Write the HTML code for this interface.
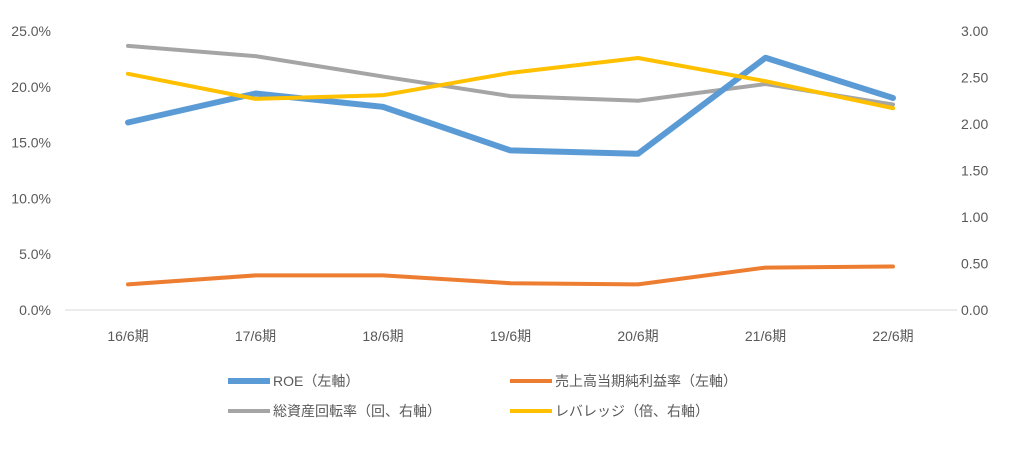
<!DOCTYPE html>
<html><head><meta charset="utf-8"><style>
body{margin:0;background:#fff;}
svg text{font-family:"Liberation Sans","Noto Sans CJK JP",sans-serif;font-size:14px;fill:#595959;}
</style></head><body>
<svg width="1024" height="445" id="c"></svg>
<script>
const categories=["16/6期","17/6期","18/6期","19/6期","20/6期","21/6期","22/6期"];
const roe=[16.8,19.4,18.2,14.3,14.0,22.6,19.0];
const margin=[2.3,3.1,3.1,2.4,2.3,3.8,3.9];
const turnover=[2.84,2.73,2.51,2.30,2.25,2.43,2.21];
const leverage=[2.54,2.27,2.31,2.55,2.71,2.46,2.17];
const leftTicks=["0.0%","5.0%","10.0%","15.0%","20.0%","25.0%"];
const rightTicks=["0.00","0.50","1.00","1.50","2.00","2.50","3.00"];
const NS="http://www.w3.org/2000/svg",svg=document.getElementById('c');
const y0=310,y1=31;
const x=i=>128+i*127.5;
const yL=v=>y0-(v/25)*(y0-y1);
const yR=v=>y0-(v/3)*(y0-y1);
function mk(t,a,p){const e=document.createElementNS(NS,t);for(const k in a)e.setAttribute(k,a[k]);(p||svg).appendChild(e);return e;}
const base=mk('line',{x1:65,x2:957,y1:y0,y2:y0,stroke:'#d9d9d9'});


leftTicks.forEach((t,i)=>{const e=mk('text',{x:51,y:yL(i*5)+5,'text-anchor':'end'});e.textContent=t;

});
rightTicks.forEach((t,i)=>{const e=mk('text',{x:961,y:yR(i*0.5)+5});e.textContent=t;

});
categories.forEach((c,i)=>{const e=mk('text',{x:x(i),y:341,'text-anchor':'middle'});e.textContent=c;

});
function series(d,f,col,name){const p=mk('polyline',{points:d.map((v,i)=>x(i)+','+f(v)).join(' '),fill:'none',stroke:col,'stroke-width':name=='roe-line'?6:4,'stroke-linejoin':'round','stroke-linecap':'round'});

}
series(margin,yL,'#ed7d31','net-margin-line');
series(turnover,yR,'#a5a5a5','asset-turnover-line');
series(roe,yL,'#5b9bd5','roe-line');
series(leverage,yR,'#ffc000','leverage-line');
const leg=[["ROE（左軸）",'#5b9bd5',228,381],["売上高当期純利益率（左軸）",'#ed7d31',510,381],["総資産回転率（回、右軸）",'#a5a5a5',228,411],["レバレッジ（倍、右軸）",'#ffc000',510,411]];
leg.forEach(l=>{const g=mk('g',{});


mk('line',{x1:l[2],x2:l[2]+42,y1:l[3],y2:l[3],stroke:l[1],'stroke-width':l[1]=='#5b9bd5'?6:4},g);
const t=mk('text',{x:l[2]+45,y:l[3]+5},g);t.textContent=l[0];});
</script></body></html>
